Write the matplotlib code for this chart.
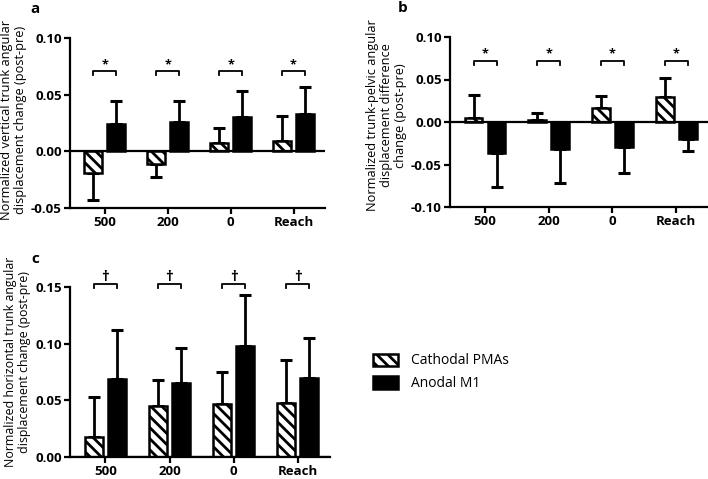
import matplotlib
matplotlib.use('Agg')
import matplotlib.pyplot as plt
import numpy as np
from matplotlib.patches import Patch
from matplotlib.ticker import FormatStrFormatter

plt.rcParams['font.family'] = ['Open Sans', 'DejaVu Sans']
plt.rcParams['axes.unicode_minus'] = False
plt.rcParams['hatch.linewidth'] = 2.0

conditions = ['500', '200', '0', 'Reach']
groups = ['Cathodal PMAs', 'Anodal M1']

# panel a: vertical trunk angular displacement
a_cath = [-0.019, -0.011, 0.007, 0.009]
a_cath_err = [0.024, 0.012, 0.014, 0.022]
a_anod = [0.024, 0.026, 0.030, 0.033]
a_anod_err = [0.020, 0.018, 0.023, 0.024]

# panel b: trunk-pelvic angular displacement difference
b_cath = [0.005, 0.002, 0.017, 0.029]
b_cath_err = [0.027, 0.009, 0.014, 0.023]
b_anod = [-0.036, -0.032, -0.029, -0.020]
b_anod_err = [0.041, 0.040, 0.031, 0.014]

# panel c: horizontal trunk angular displacement
c_cath = [0.018, 0.045, 0.047, 0.048]
c_cath_err = [0.035, 0.023, 0.028, 0.038]
c_anod = [0.069, 0.065, 0.098, 0.070]
c_anod_err = [0.043, 0.031, 0.045, 0.035]

fig = plt.figure(figsize=(7.08, 4.79), dpi=100)
W, H = 708., 479.


def px_axes(left, top, right, bottom):
    return fig.add_axes([left / W, 1 - bottom / H, (right - left) / W,
                         (bottom - top) / H])


def one_sided(vals, errs):
    vals = np.asarray(vals)
    errs = np.asarray(errs)
    lo = np.where(vals < 0, errs, 0)
    hi = np.where(vals >= 0, errs, 0)
    return [lo, hi]


def panel(ax, cath, cath_err, anod, anod_err, ylim, yticks, ylabel,
          sig_y, sig_sym, tick_h, label_size=9.2, label_y=0.5):
    x = np.arange(len(conditions))
    off, w = 0.18, 0.28
    ax.bar(x - off, cath, w, color='white', edgecolor='black',
           hatch='\\\\\\', linewidth=1.8, zorder=2)
    ax.bar(x + off, anod, w, color='black', edgecolor='black',
           linewidth=1.8, zorder=2)
    for xs, v, e in ((x - off, cath, cath_err), (x + off, anod, anod_err)):
        ax.errorbar(xs, v, yerr=one_sided(v, e), fmt='none', ecolor='black',
                    elinewidth=2.0, capsize=4.5, capthick=2.2, zorder=1,
                    clip_on=False)
    ax.axhline(0, color='black', lw=1.6, zorder=3)
    ax.set_xlim(-0.55, 3.5)
    ax.set_ylim(*ylim)
    ax.set_yticks(yticks)
    ax.yaxis.set_major_formatter(FormatStrFormatter('%.2f'))
    ax.set_xticks(x)
    ax.set_xticklabels(conditions)
    for s in ('top', 'right'):
        ax.spines[s].set_visible(False)
    for s in ('left', 'bottom'):
        ax.spines[s].set_linewidth(1.6)
    ax.tick_params(width=1.6, length=4, labelsize=9.5, pad=2)
    for lab in ax.get_xticklabels() + ax.get_yticklabels():
        lab.set_fontweight('bold')
    ax.set_ylabel(ylabel, fontsize=label_size, labelpad=3, linespacing=1.1)
    ax.yaxis.label.set_y(label_y)
    # significance brackets
    for xi in x:
        ax.plot([xi - off, xi - off, xi + off, xi + off],
                [sig_y - tick_h, sig_y, sig_y, sig_y - tick_h],
                color='black', lw=1.3, clip_on=False)
        ax.text(xi, sig_y, sig_sym, ha='center', va='bottom',
                fontsize=9 if sig_sym == '*' else 11, fontweight='bold')


ax_a = px_axes(70, 38, 325, 208)
panel(ax_a, a_cath, a_cath_err, a_anod, a_anod_err, (-0.05, 0.10),
      [-0.05, 0.0, 0.05, 0.10],
      'Normalized vertical trunk angular\ndisplacement change (post-pre)',
      0.071, '*', 0.004, label_y=0.52)

ax_b = px_axes(450, 37, 708, 207)
panel(ax_b, b_cath, b_cath_err, b_anod, b_anod_err, (-0.10, 0.10),
      [-0.10, -0.05, 0.0, 0.05, 0.10],
      'Normalized trunk-pelvic angular\ndisplacement difference\nchange (post-pre)',
      0.072, '*', 0.005, label_y=0.54)

ax_c = px_axes(70, 287, 330, 457)
panel(ax_c, c_cath, c_cath_err, c_anod, c_anod_err, (0.0, 0.15),
      [0.0, 0.05, 0.10, 0.15],
      'Normalized horizontal trunk angular\ndisplacement change (post-pre)',
      0.153, '\u2020', 0.004, label_size=8.9, label_y=0.56)

fig.text(30 / W, 1 - 9 / H, 'a', fontsize=11, fontweight='bold', va='center')
fig.text(398 / W, 1 - 8 / H, 'b', fontsize=11, fontweight='bold', va='center')
fig.text(31 / W, 1 - 259 / H, 'c', fontsize=11, fontweight='bold', va='center')

handles = [Patch(facecolor='white', edgecolor='black', hatch='\\\\\\',
                 linewidth=1.8),
           Patch(facecolor='black', edgecolor='black', linewidth=1.8)]
fig.legend(handles, groups, loc='upper left',
           bbox_to_anchor=(360 / W, 1 - 341 / H), frameon=False,
           fontsize=10, handlelength=1.8, handleheight=1.0,
           handletextpad=1.0, labelspacing=0.55)

plt.savefig('out.png', dpi=100)
plt.close()
